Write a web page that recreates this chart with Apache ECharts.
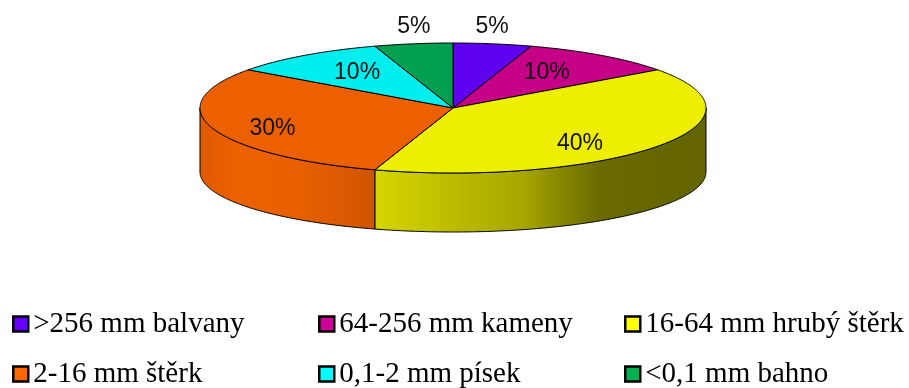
<!DOCTYPE html>
<html>
<head>
<meta charset="utf-8">
<title>Zrnitost dna</title>
<style>html,body{margin:0;padding:0;background:#fff}#chart{width:909px;height:388px}</style>
<script src="https://cdn.jsdelivr.net/npm/echarts@6/dist/echarts.min.js"></script>
</head>
<body>
<div id="chart"></div>
<script>
// Grain size classes and their percentage shares
const categories = ['>256 mm balvany', '64-256 mm kameny', '16-64 mm hrubý štěrk', '2-16 mm štěrk', '0,1-2 mm písek', '<0,1 mm bahno'];
const shares = [5, 10, 40, 30, 10, 5];

// Colours: slice top face and legend swatch
const topColors = ['#5F00EE', '#C60086', '#EEEE00', '#ED6000', '#00EEEE', '#00A050'];
const legendColors = ['#6600FF', '#CC0099', '#FFFF00', '#FF6600', '#00FFFF', '#00B050'];

// Radial placement of each value label, as fractions of the ellipse radii
const labelRadiusX = [0.99, 0.63, 0.62, 0.75, 0.645, 0.99];
const labelRadiusY = [1.27, 0.68, 0.94, 1.05, 0.68, 1.27];

// Tilted disc geometry; the lower rim is a slightly flatter ellipse because of perspective
const CX = 453, CY = 108, RX = 253, RY = 65, LOWER_CY = 172, LOWER_RY = 60;

const total = shares.reduce((a, b) => a + b, 0);
const rad = deg => deg * Math.PI / 180;

function arc(a0, a1, cy, ry) {
  const pts = [];
  const n = Math.max(2, Math.ceil(Math.abs(a1 - a0) * 2));
  for (let i = 0; i <= n; i++) {
    const a = a0 + (a1 - a0) * i / n;
    pts.push([CX + RX * Math.sin(rad(a)), cy - ry * Math.cos(rad(a))]);
  }
  return pts;
}

// Shading of the outer wall runs left to right across the whole disc
function wallFill(a0) {
  if (a0 >= 180) {
    return { type: 'linear', x: 200, y: 0, x2: 375, y2: 0, global: true, colorStops: [
      { offset: 0, color: '#E05A00' }, { offset: 0.2, color: '#EC6000' },
      { offset: 0.5, color: '#EA6000' }, { offset: 0.8, color: '#DC5A00' },
      { offset: 1, color: '#CF5500' } ] };
  }
  return { type: 'linear', x: 375, y: 0, x2: 706, y2: 0, global: true, colorStops: [
    { offset: 0, color: '#D6D600' }, { offset: 0.25, color: '#BABA00' },
    { offset: 0.45, color: '#A6A600' }, { offset: 0.58, color: '#828200' },
    { offset: 0.68, color: '#6A6A00' }, { offset: 1, color: '#646400' } ] };
}

function renderSlice(params) {
  const i = params.seriesIndex;
  const before = shares.slice(0, i).reduce((a, b) => a + b, 0);
  const a0 = before / total * 360;
  const a1 = (before + shares[i]) / total * 360;
  const children = [];
  const edge = { stroke: '#000', lineWidth: 1 };

  // Outer wall is only visible on the near half of the disc
  const w0 = Math.max(a0, 90), w1 = Math.min(a1, 270);
  if (w1 > w0) {
    children.push({
      type: 'polygon',
      shape: { points: arc(w0, w1, CY, RY).concat(arc(w1, w0, LOWER_CY, LOWER_RY)) },
      style: Object.assign({ fill: wallFill(a0) }, edge)
    });
  }
  children.push({
    type: 'polygon',
    shape: { points: [[CX, CY]].concat(arc(a0, a1, CY, RY)) },
    style: Object.assign({ fill: topColors[i] }, edge)
  });

  const mid = rad((a0 + a1) / 2);
  children.push({
    type: 'text',
    z2: 100,
    style: {
      x: CX + RX * labelRadiusX[i] * Math.sin(mid),
      y: CY - RY * labelRadiusY[i] * Math.cos(mid),
      text: shares[i] + '%',
      font: '23px "Liberation Sans", Arial, sans-serif',
      fill: '#111',
      align: 'center',
      verticalAlign: 'middle'
    }
  });
  return { type: 'group', children };
}

const chart = echarts.init(document.getElementById('chart'), null, { renderer: 'canvas' });

const legendColumn = (left, idx) => ({
  orient: 'vertical',
  left,
  top: 307,
  height: 140,
  itemWidth: 15,
  itemHeight: 15,
  itemGap: 16,
  padding: 0,
  selectedMode: false,
  itemStyle: { borderColor: '#000', borderWidth: 2.5 },
  textStyle: { fontFamily: '"Liberation Serif", "Times New Roman", serif', fontSize: 29, color: '#000', lineHeight: 31, padding: [3, 0, 0, 0] },
  data: idx.map(k => ({ name: categories[k], icon: 'rect', itemStyle: { color: legendColors[k] } }))
});

chart.setOption({
  animation: false,
  backgroundColor: '#fff',
  legend: [legendColumn(12, [0, 3]), legendColumn(318, [1, 4]), legendColumn(624, [2, 5])],
  series: categories.map((name, i) => ({
    type: 'custom',
    name,
    coordinateSystem: 'none',
    silent: true,
    itemStyle: { color: legendColors[i] },
    renderItem: renderSlice,
    data: [[shares[i]]]
  }))
});
</script>
</body>
</html>
